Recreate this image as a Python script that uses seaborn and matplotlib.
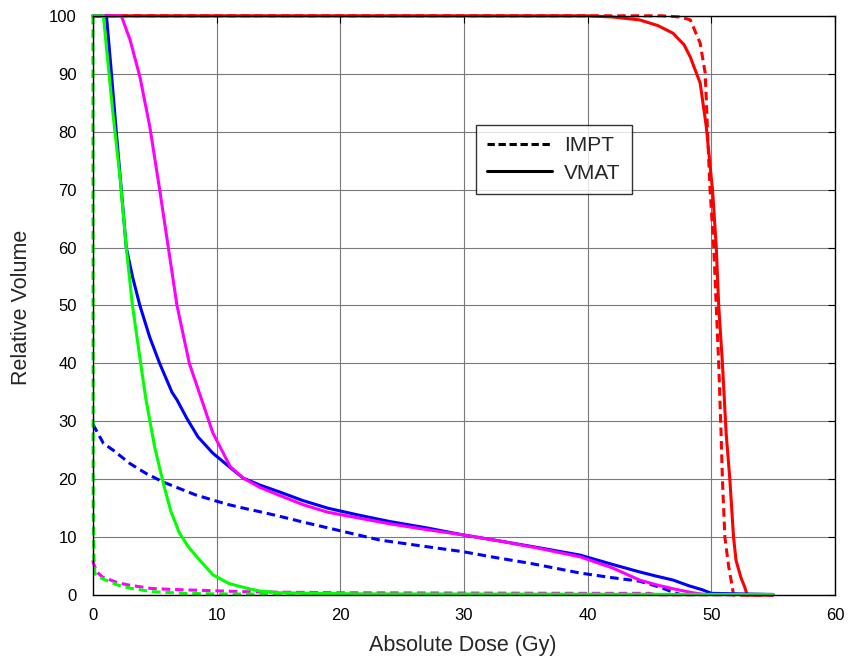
import matplotlib
matplotlib.use("Agg")
import matplotlib.pyplot as plt
from matplotlib.lines import Line2D
import numpy as np
import pandas as pd
import seaborn as sns

# Dose-volume histogram points (dose in Gy, relative volume in %)
red_vmat_dose = [0, 40, 42, 44.2, 45.7, 46.9, 47.8, 48.3, 49.1, 49.6, 50.0, 50.1, 50.4, 50.6,
                 50.9, 51.2, 51.5, 51.8, 52.0, 52.4, 52.7, 52.9, 55]
red_vmat_vol = [100, 100, 99.8, 99.3, 98.3, 97, 95, 92.9, 88.4, 80.8, 72, 70, 60.2, 50,
                40, 28, 20, 10, 6, 3, 1.4, 0, 0]

red_impt_dose = [0, 46.0, 47.5, 48.3, 49.1, 49.5, 49.6, 49.7, 49.9, 50.2, 50.4, 50.6, 50.8,
                 50.9, 51.1, 51.4, 51.7, 51.8, 55]
red_impt_vol = [100, 100, 99.8, 99.3, 95.3, 90.2, 85.5, 79.8, 70, 60, 50, 40, 27.3,
                20, 10, 5, 1.4, 0, 0]

blue_vmat_dose = [0, 1.1, 1.5, 1.9, 2.3, 2.7, 3.2, 3.8, 4.6, 5.4, 6.4, 6.8, 7.6, 8.5, 9.7,
                  11.0, 12.15, 13.5, 15.1, 17.0, 19.0, 21.5, 24.0, 27.0, 29.9, 33.0, 36.0,
                  39.4, 42.0, 44.2, 45.5, 46.9, 48.2, 49.3, 50.0, 55.0]
blue_vmat_vol = [100, 100, 90.1, 79.8, 70, 60, 55, 50, 44.5, 40, 35, 33.7, 30.5, 27.3, 24.5,
                 22.2, 20.2, 19, 17.8, 16.3, 15.0, 13.8, 12.7, 11.6, 10.4, 9.3, 8.2,
                 6.9, 5.3, 4.0, 3.3, 2.6, 1.6, 0.9, 0.3, 0.1]

blue_impt_dose = [0, 0.85, 1.65, 3.0, 4.3, 5.7, 7.0, 8.3, 9.7, 11.0, 12.4, 13.7, 15.1, 17.0,
                  19.0, 21.0, 23.2, 26.5, 29.9, 32.5, 35.3, 37.5, 39.4, 42.0, 44.2, 45.8,
                  46.9, 47.5, 55]
blue_impt_vol = [29.5, 26.2, 25.0, 22.7, 21.0, 19.5, 18.4, 17.3, 16.4, 15.6, 14.9, 14.3, 13.6,
                 12.6, 11.6, 10.6, 9.5, 8.5, 7.5, 6.5, 5.5, 4.6, 3.8, 3.0, 2.4, 1.4,
                 0.5, 0.1, 0.1]

magenta_vmat_dose = [0, 2.3, 3.0, 3.8, 4.6, 5.4, 6.1, 6.8, 7.8, 8.8, 9.7, 11.1, 12.15, 13.5,
                     15.1, 17.0, 19.0, 21.5, 24.0, 27.0, 29.9, 33.0, 36.0, 39.4, 42.0, 44.2,
                     45.5, 46.9, 48.5, 49.5, 55]
magenta_vmat_vol = [100, 100, 95.9, 89.5, 80.9, 70, 60, 50, 40, 33.7, 28.0, 22.2, 20.2, 18.6,
                    17.2, 15.6, 14.3, 13.3, 12.3, 11.3, 10.4, 9.3, 8.1, 6.6, 4.7, 2.6,
                    1.8, 1.1, 0.4, 0.1, 0.1]

magenta_impt_dose = [0, 0.05, 0.3, 0.8, 2.05, 3.0, 4.7, 6.1, 7.5, 9.7, 12.0, 15.1, 20, 30,
                     40, 45, 45.5, 55]
magenta_impt_vol = [6.0, 5.5, 4.0, 3.1, 2.1, 1.7, 1.15, 1.0, 0.9, 0.75, 0.6, 0.5, 0.4, 0.35,
                    0.3, 0.3, 0.05, 0.05]

green_vmat_dose = [0, 0.85, 1.25, 1.65, 2.2, 2.7, 3.2, 4.0, 4.3, 5.0, 5.7, 6.3, 7.0, 7.7,
                   8.4, 9.7, 11.0, 12.4, 13.5, 15.1, 18, 22, 55]
green_vmat_vol = [100, 100, 91.2, 82.6, 72, 60, 50, 38, 33.7, 25.5, 19.3, 14.5, 10.7, 8.4,
                  6.6, 3.5, 2.0, 1.2, 0.7, 0.4, 0.3, 0.2, 0.1]

green_impt_dose = [0, 0.02, 0.1, 0.16, 0.8, 2.05, 3.0, 4.7, 7.4, 10, 15, 20, 55]
green_impt_vol = [100, 15, 6, 3.7, 2.8, 1.7, 1.2, 0.6, 0.3, 0.2, 0.15, 0.1, 0.1]

curves = [
    ("red", "IMPT", red_impt_dose, red_impt_vol),
    ("red", "VMAT", red_vmat_dose, red_vmat_vol),
    ("blue", "IMPT", blue_impt_dose, blue_impt_vol),
    ("blue", "VMAT", blue_vmat_dose, blue_vmat_vol),
    ("magenta", "IMPT", magenta_impt_dose, magenta_impt_vol),
    ("magenta", "VMAT", magenta_vmat_dose, magenta_vmat_vol),
    ("green", "IMPT", green_impt_dose, green_impt_vol),
    ("green", "VMAT", green_vmat_dose, green_vmat_vol),
]

frames = []
for color, plan, dose, vol in curves:
    frames.append(pd.DataFrame({"dose": dose, "volume": vol,
                                "structure": color, "plan": plan}))
df = pd.concat(frames, ignore_index=True)

palette = {"red": "#ff0000", "blue": "#0000ff", "magenta": "#ff00ff", "green": "#00ff00"}
dashes = {"IMPT": (2.8, 1.6), "VMAT": ""}

sns.set_style("white")
plt.rcParams["font.family"] = ["Liberation Sans", "DejaVu Sans"]

fig = plt.figure(figsize=(8.52, 6.59), dpi=100)
ax = fig.add_axes([0.109, 0.097, 0.871, 0.879])

sns.lineplot(data=df, x="dose", y="volume", hue="structure", style="plan",
             hue_order=["red", "blue", "magenta", "green"], style_order=["IMPT", "VMAT"],
             palette=palette, dashes=dashes, estimator=None, sort=False,
             linewidth=2.2, legend=False, ax=ax)
for ln in ax.lines:
    ln.set_clip_on(False)
    ln.set_solid_joinstyle("round")

ax.set_xlim(0, 60)
ax.set_ylim(0, 100)
ax.set_xticks(np.arange(0, 61, 10))
ax.set_yticks(np.arange(0, 101, 10))
ax.grid(True, color="#7a7a7a", linewidth=0.8)
ax.set_axisbelow(True)
for sp in ax.spines.values():
    sp.set_visible(True)
    sp.set_color("black")
    sp.set_linewidth(1.0)
ax.tick_params(direction="in", length=5, width=0.8, top=True, right=True,
               labelsize=12, colors="black")
ax.tick_params(axis="x", pad=9)
ax.tick_params(axis="y", pad=11.5)

ax.set_xlabel("Absolute Dose (Gy)", fontsize=15.5)
ax.set_ylabel("Relative Volume", fontsize=15.5)
ax.xaxis.set_label_coords(0.498, -0.069)
ax.yaxis.set_label_coords(-0.082, 0.497)

handles = [Line2D([], [], color="black", linewidth=2.2, dashes=(2.4, 1.2)),
           Line2D([], [], color="black", linewidth=2.2)]
leg = ax.legend(handles, ["IMPT", "VMAT"], loc="upper left",
                bbox_to_anchor=(0.516, 0.812), fontsize=15, handlelength=3.1,
                handletextpad=0.6, frameon=True, fancybox=False, borderpad=0.55,
                labelspacing=0.4, borderaxespad=0)
leg.get_frame().set_edgecolor("black")
leg.get_frame().set_linewidth(1.0)

fig.savefig("out.png", dpi=100, facecolor="white")
